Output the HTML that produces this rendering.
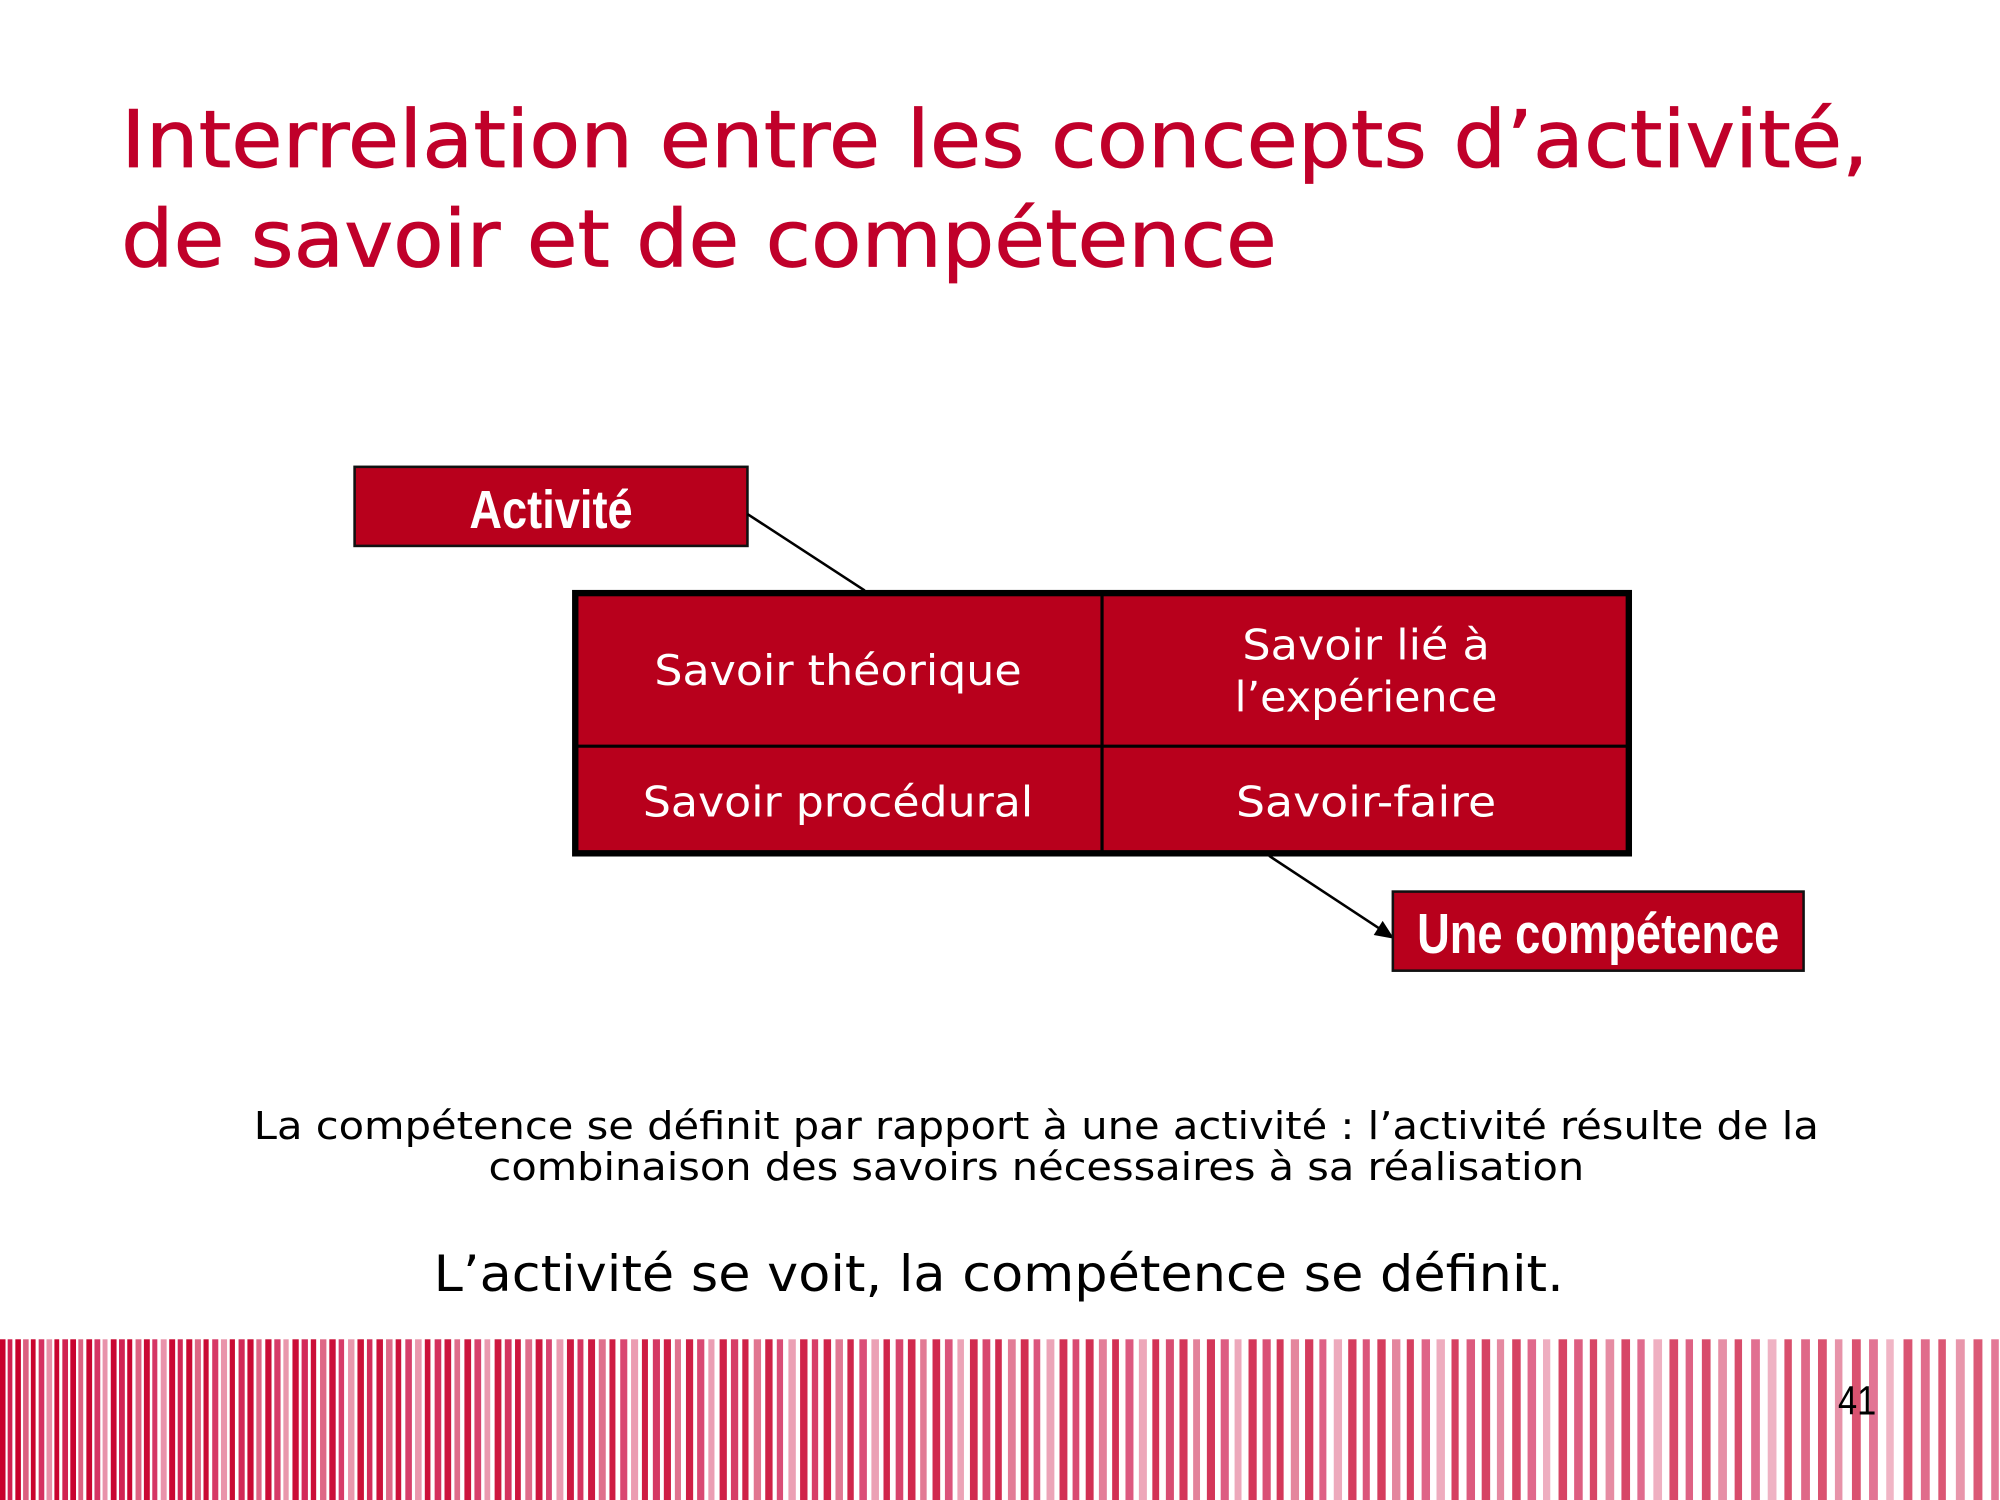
<!DOCTYPE html>
<html><head><meta charset="utf-8">
<style>
html,body{margin:0;padding:0;background:#fff;}
svg{display:block;}
</style></head>
<body>
<svg id="slide" width="2000" height="1500" viewBox="0 0 1568 1176" xmlns="http://www.w3.org/2000/svg">
  <rect x="0" y="0" width="1568" height="1176" fill="#fff"/>
  <g font-family="'DejaVu Sans', Verdana, sans-serif" font-size="62" fill="#c0002a" stroke="#c0002a" stroke-width="0.6">
    <text x="95" y="131" textLength="1370" lengthAdjust="spacingAndGlyphs">Interrelation entre les concepts d’activité,</text>
    <text x="95" y="209" textLength="906" lengthAdjust="spacingAndGlyphs">de savoir et de compétence</text>
  </g>

  <g>
    <rect x="278" y="366" width="308" height="62" fill="#b8001c" stroke="#111" stroke-width="2"/>
    <text x="432" y="414" text-anchor="middle" font-family="'Liberation Sans Narrow','Liberation Sans',sans-serif" font-weight="bold" font-size="42" fill="#fff" textLength="128" lengthAdjust="spacingAndGlyphs">Activité</text>
  </g>
  <line x1="586" y1="403" x2="678" y2="463" stroke="#000" stroke-width="2"/>

  <g>
    <rect x="451" y="465" width="826" height="204" fill="#b8001c" stroke="#000" stroke-width="5"/>
    <line x1="864" y1="465" x2="864" y2="669" stroke="#000" stroke-width="2.5"/>
    <line x1="451" y1="585" x2="1277" y2="585" stroke="#000" stroke-width="2.5"/>
    <g font-family="'DejaVu Sans', Verdana, sans-serif" font-size="33" fill="#fff" text-anchor="middle">
      <text x="657" y="537" textLength="288" lengthAdjust="spacingAndGlyphs">Savoir théorique</text>
      <text x="1071" y="517" textLength="194" lengthAdjust="spacingAndGlyphs">Savoir lié à</text>
      <text x="1071" y="558" textLength="206" lengthAdjust="spacingAndGlyphs">l’expérience</text>
      <text x="657" y="640" textLength="306" lengthAdjust="spacingAndGlyphs">Savoir procédural</text>
      <text x="1071" y="640" textLength="204" lengthAdjust="spacingAndGlyphs">Savoir-faire</text>
    </g>
  </g>

  <g>
    <line x1="995" y1="671" x2="1083" y2="729" stroke="#000" stroke-width="2"/>
    <polygon points="1093,736 1077,733 1084,722" fill="#000"/>
  </g>

  <g>
    <rect x="1092" y="699" width="322" height="62" fill="#b8001c" stroke="#111" stroke-width="2"/>
    <text x="1253" y="747" text-anchor="middle" font-family="'Liberation Sans Narrow','Liberation Sans',sans-serif" font-weight="bold" font-size="44" fill="#fff" textLength="284" lengthAdjust="spacingAndGlyphs">Une compétence</text>
  </g>

  <g font-family="'DejaVu Sans', Verdana, sans-serif" font-size="30" fill="#000">
    <text x="199" y="893" textLength="1227" lengthAdjust="spacingAndGlyphs">La compétence se définit par rapport à une activité : l’activité résulte de la</text>
    <text x="383" y="925" textLength="859" lengthAdjust="spacingAndGlyphs">combinaison des savoirs nécessaires à sa réalisation</text>
  </g>
  <text x="340" y="1012" font-family="'DejaVu Sans', Verdana, sans-serif" font-size="39" fill="#000" textLength="886" lengthAdjust="spacingAndGlyphs">L’activité se voit, la compétence se définit.</text>

  <g id="stripes"></g>
  <text x="1456" y="1109" text-anchor="middle" font-family="'Liberation Sans Narrow','Liberation Sans',sans-serif" font-size="32" fill="#000" textLength="30" lengthAdjust="spacingAndGlyphs">41</text>
</svg>
<script>
(function(){
  var g=document.getElementById('stripes');
  var ns='http://www.w3.org/2000/svg';
  var x=0,i=0;
  var shades=['#c8002c','#d02050','#c8002c','#dc6080','#c8002c','#d43060','#e890a8'];
  while(x<1568){
    var t=x/1568;
    var period=6+8*t;
    var w=period*(0.72-0.22*t)*((i%3===1)?0.85:1);
    var r=document.createElementNS(ns,'rect');
    
    
    r.setAttribute('x',x.toFixed(2));r.setAttribute('y',1050);
    r.setAttribute('width',w.toFixed(2));r.setAttribute('height',126);
    r.setAttribute('fill',shades[i%shades.length]);
    r.setAttribute('opacity',(1-0.35*t).toFixed(2));
    g.appendChild(r);
    x+=period;i++;
  }
})();
</script>
</body></html>
